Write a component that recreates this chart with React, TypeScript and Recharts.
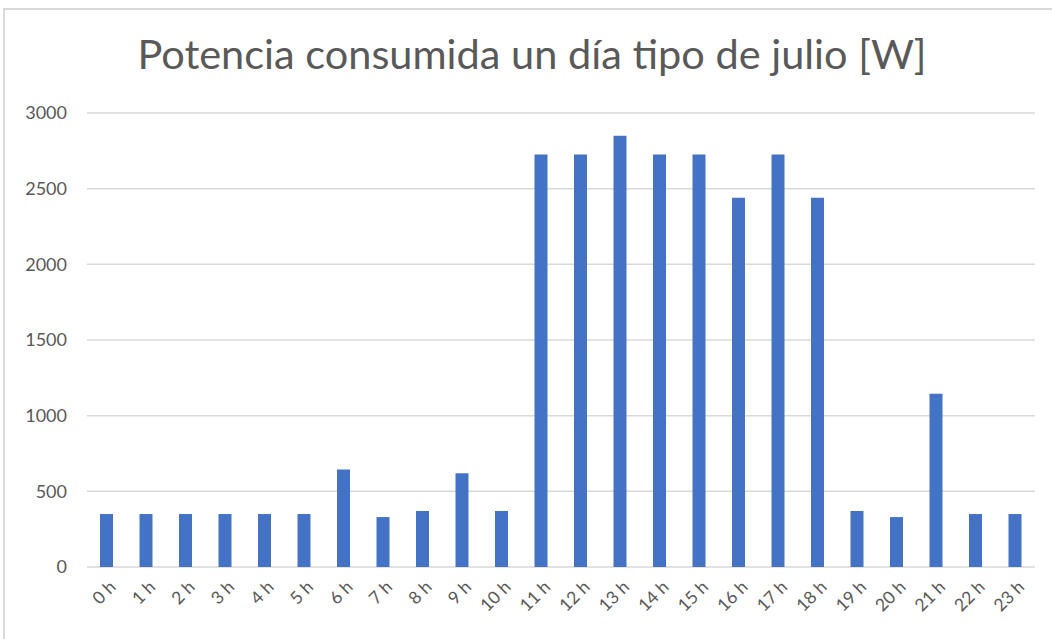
import React from 'react'
import { BarChart, Bar, XAxis, YAxis, CartesianGrid } from 'recharts'

const hours = [
  '0 h', '1 h', '2 h', '3 h', '4 h', '5 h', '6 h', '7 h', '8 h', '9 h', '10 h', '11 h',
  '12 h', '13 h', '14 h', '15 h', '16 h', '17 h', '18 h', '19 h', '20 h', '21 h', '22 h', '23 h'
]
const potencia = [
  350, 350, 350, 350, 350, 350, 645, 330, 370, 620, 370, 2725,
  2725, 2850, 2725, 2725, 2440, 2725, 2440, 370, 330, 1145, 350, 350
]
const yTicks = [0, 500, 1000, 1500, 2000, 2500, 3000]

const FONT = 'Lato, "Open Sans", sans-serif'
const GREY = '#595959'

const data = hours.map((h, i) => ({ hora: h, valor: potencia[i] }))

// etiqueta girada -45 como en Excel
const HourTick = ({ x, y, payload }: any) => (
  <text
    x={x + 7}
    y={y + 10}
    transform={`rotate(-45 ${x + 7} ${y + 10})`}
    textAnchor="end"
    dominantBaseline="middle"
    fill={GREY}
    fontSize={17.5}
    fontFamily={FONT}
  >
    {payload.value}
  </text>
)

export default function App() {
  return (
    <div style={{ position: 'absolute', left: 0, top: 0, width: 1052, height: 639, background: '#fff' }}>
      <div
        style={{
          position: 'absolute',
          left: 3,
          top: 8,
          width: 1060,
          height: 640,
          borderLeft: '2px solid #d9d9d9',
          borderTop: '2px solid #d9d9d9'
        }}
      />
      <div
        style={{
          position: 'absolute',
          top: 28,
          left: 0,
          width: 1064,
          textAlign: 'center',
          fontFamily: FONT,
          fontSize: 41.5,
          color: GREY,
          fontWeight: 400
        }}
      >
        Potencia consumida un día tipo de julio [W]
      </div>
      <div style={{ position: 'absolute', left: 0, top: 0 }}>
        <BarChart
          width={1052}
          height={639}
          data={data}
          margin={{ top: 113, right: 17, left: 0, bottom: 0 }}
        >
          <CartesianGrid vertical={false} stroke="#d9d9d9" strokeWidth={1.5} />
          <XAxis
            dataKey="hora"
            interval={0}
            height={72}
            axisLine={false}
            tickLine={false}
            tick={<HourTick />}
          />
          <YAxis
            domain={[0, 3000]}
            ticks={yTicks}
            width={87}
            axisLine={false}
            tickLine={false}
            tickSize={0}
            tickMargin={20}
            tick={{ fill: GREY, fontSize: 18, fontFamily: FONT }}
          />
          <Bar dataKey="valor" fill="#4472c4" barSize={13} isAnimationActive={false} />
        </BarChart>
      </div>
    </div>
  )
}
